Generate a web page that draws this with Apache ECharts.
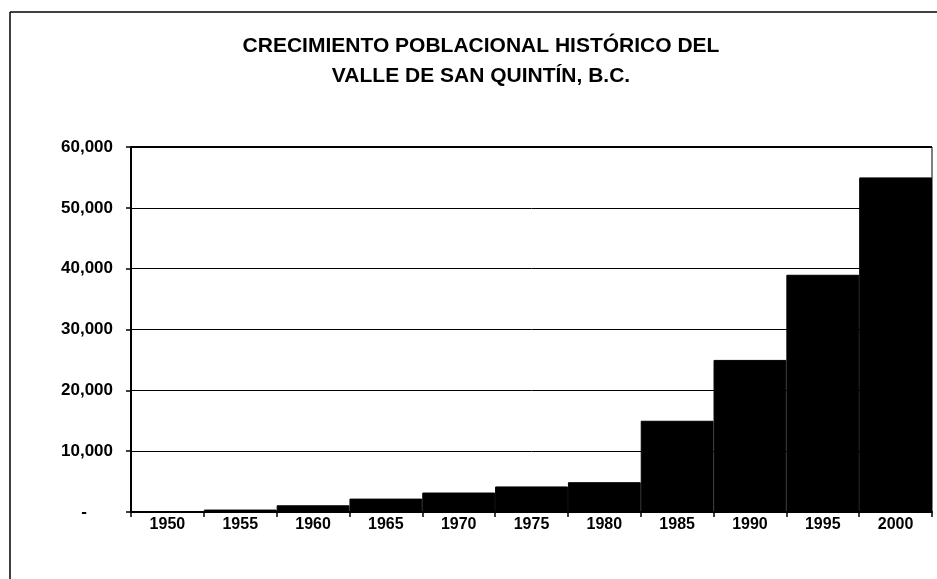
<!DOCTYPE html>
<html>
<head>
<meta charset="utf-8">
<script src="https://cdn.jsdelivr.net/npm/echarts@6/dist/echarts.min.js"></script>
<style>html,body{margin:0;padding:0;background:#fff}#c{width:937px;height:579px}</style>
</head>
<body>
<div id="c"></div>
<script>
const years = ['1950','1955','1960','1965','1970','1975','1980','1985','1990','1995','2000'];
const population = [0, 400, 1100, 2200, 3200, 4200, 4900, 15000, 25000, 39000, 55000];
const yTicks = [0, 10000, 20000, 30000, 40000, 50000, 60000];
const titleLines = ['CRECIMIENTO POBLACIONAL HISTÓRICO DEL', 'VALLE DE SAN QUINTÍN, B.C.'];

const chart = echarts.init(document.getElementById('c'), null, {renderer: 'canvas'});
const FONT = '"Liberation Sans", Arial, sans-serif';
chart.setOption({
  animation: false,
  backgroundColor: '#fff',
  title: {
    text: titleLines.join('\n'),
    left: 476,
    top: 26,
    textAlign: 'center',
    textStyle: {fontFamily: FONT, fontSize: 21, fontWeight: 'bold', color: '#000', lineHeight: 30}
  },
  grid: {left: 131, right: 5, top: 147, bottom: 67, show: true, borderColor: '#000', borderWidth: 1, backgroundColor: 'transparent'},
  xAxis: {
    type: 'category',
    data: years,
    axisLine: {lineStyle: {color: '#000', width: 2}},
    axisTick: {show: true, length: 5, lineStyle: {color: '#000', width: 1.5}},
    axisLabel: {fontFamily: FONT, fontSize: 16, fontWeight: 'bold', color: '#000', margin: 5}
  },
  yAxis: {
    type: 'value',
    min: yTicks[0],
    max: yTicks[yTicks.length - 1],
    interval: yTicks[1] - yTicks[0],
    axisLine: {show: true, lineStyle: {color: '#000', width: 2}},
    axisTick: {show: true, length: 5, lineStyle: {color: '#000', width: 1.5}},
    splitLine: {show: true, lineStyle: {color: '#000', width: 1}},
    axisLabel: {
      fontFamily: FONT, fontSize: 17, fontWeight: 'bold', color: '#000', margin: 18,
      formatter: v => v === 0 ? '{d|-}' : v.toLocaleString('en-US'),
      rich: {d: {fontFamily: FONT, fontSize: 17, fontWeight: 'bold', color: '#000', padding: [0, 26, 0, 0]}}
    }
  },
  series: [{
    type: 'bar',
    data: population,
    barCategoryGap: '0%',
    itemStyle: {color: '#000', borderColor: '#000', borderWidth: 1}
  }],
  graphic: [
    {type: 'line', shape: {x1: 10, y1: 12, x2: 937, y2: 12}, style: {stroke: '#000', lineWidth: 1.5}},
    {type: 'line', shape: {x1: 10, y1: 12, x2: 10, y2: 579}, style: {stroke: '#000', lineWidth: 1.5}},
    {type: 'line', shape: {x1: 131, y1: 147, x2: 932, y2: 147}, style: {stroke: '#000', lineWidth: 2}}
  ]
});
</script>
</body>
</html>
